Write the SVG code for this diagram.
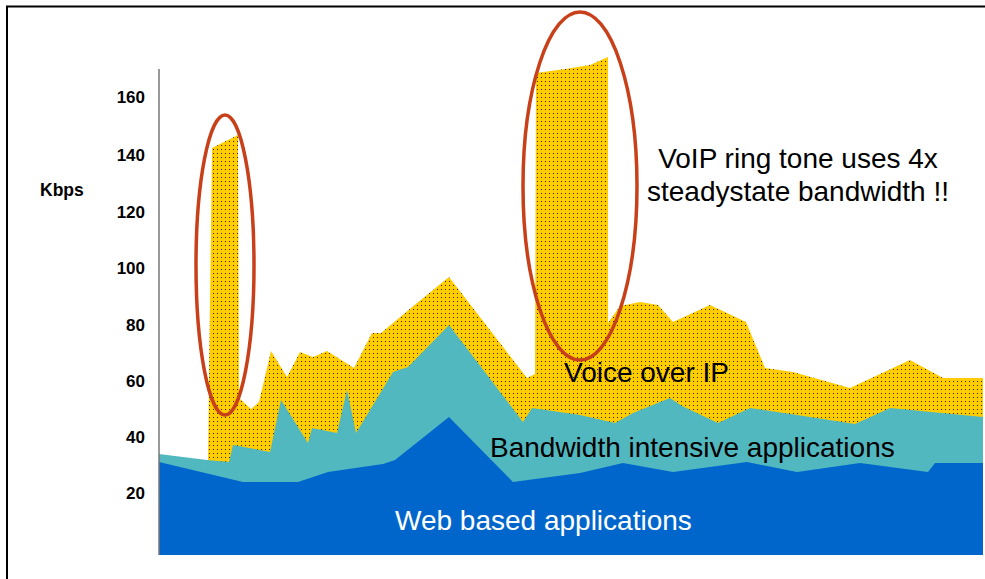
<svg xmlns="http://www.w3.org/2000/svg" width="985" height="579" viewBox="0 0 985 579">
<style>
.num{font-family:"Liberation Sans",Arial,sans-serif;font-weight:bold;font-size:17px;fill:#000;text-anchor:end}
.unit{font-family:"Liberation Sans",Arial,sans-serif;font-weight:bold;font-size:17.5px;fill:#000}
.lbl{font-family:"Liberation Sans",Arial,sans-serif;font-size:28px;fill:#000}
.note{font-family:"Liberation Sans",Arial,sans-serif;font-size:28px;fill:#000;text-anchor:middle}
.ring{fill:none;stroke:#c8401a;stroke-width:3.5}
</style>
<defs>
<pattern id="dots" width="4" height="4" patternUnits="userSpaceOnUse">
<rect width="4" height="4" fill="#ffcc00"/>
<rect x="1" y="1" width="1" height="1" fill="#2a2200"/>
</pattern>
</defs>
<rect width="985" height="579" fill="#fff"/>
<g id="frame" fill="none" stroke="#000" stroke-width="2">
<polyline points="7,579 7,6.5 985,6.5"/>
</g>
<g id="voip-area">
<polygon fill="url(#dots)" points="208,555 208,460 212,148 238,135 239,398 251,409 259,402 271,351 287,377 300,352 313,357 327,351 354,368 372,333 381,333 417,303 449,277 527,378 535,374 536,73 565,69 590,65 608,57 608,323 620,306 640,302 658,305 673,322 710,305 746,322 765,368 793,372 850,388 910,360 943,378 983,378 983,555"/>
</g>
<g id="bandwidth-area">
<polygon fill="#52b8c0" points="159,555 159,454 207,460 229,462 233,445 244,447 270,452 281,400 308,443 312,428 337,433 347,390 356,433 393,372 408,367 449,325 523,422 532,408 580,415 615,423 633,413 670,398 682,406 718,423 750,408 797,415 855,424 890,408 983,417 983,555"/>
</g>
<g id="web-area">
<polygon fill="#0066cc" points="159,555 159,462 243,482 298,482 328,472 383,464 395,460 449,417 513,482 580,473 623,463 673,472 747,462 797,472 860,463 928,472 935,463 983,463 983,555"/>
</g>
<g id="axis">
<line x1="159" y1="69" x2="159" y2="555" stroke="#777" stroke-width="1.5"/>
<text class="num" x="145" y="103">160</text>
<text class="num" x="145" y="161">140</text>
<text class="num" x="145" y="218">120</text>
<text class="num" x="145" y="274">100</text>
<text class="num" x="145" y="331">80</text>
<text class="num" x="145" y="387">60</text>
<text class="num" x="145" y="443">40</text>
<text class="num" x="145" y="499">20</text>
<text class="unit" x="40" y="196">Kbps</text>
</g>
<g id="highlights">
<ellipse class="ring" cx="225" cy="265" rx="29" ry="150"/>
<ellipse class="ring" cx="580" cy="186" rx="57" ry="174"/>
</g>
<g id="labels">
<text class="note" x="798" y="168">VoIP ring tone uses 4x</text>
<text class="note" x="798" y="201">steadystate bandwidth !!</text>
<text class="lbl" x="564" y="382">Voice over IP</text>
<text class="lbl" x="490" y="457">Bandwidth intensive applications</text>
<text class="lbl" x="395" y="530" style="fill:#fff">Web based applications</text>
</g>
</svg>
